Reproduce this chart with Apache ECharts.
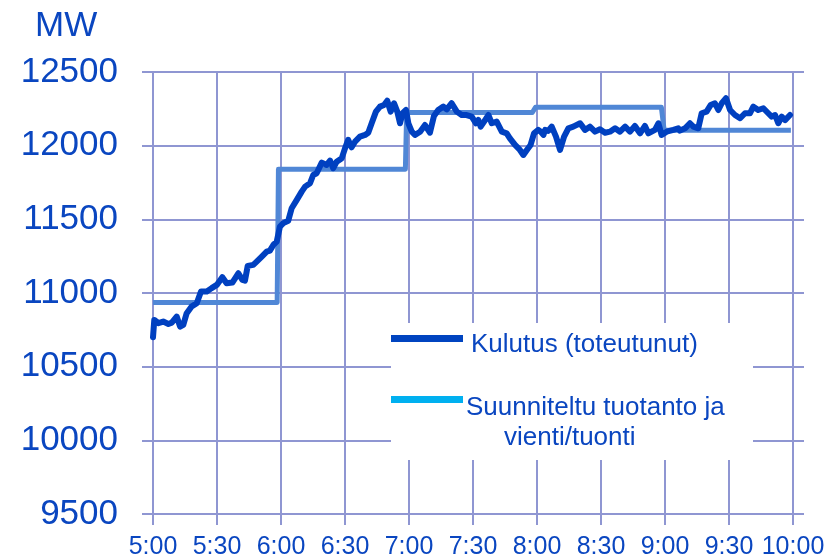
<!DOCTYPE html>
<html>
<head>
<meta charset="utf-8">
<script src="https://cdn.jsdelivr.net/npm/echarts@6/dist/echarts.min.js"></script>
<style>
html,body{margin:0;padding:0;background:#fff;}
#c{width:840px;height:557px;}
</style>
</head>
<body>
<div id="c"></div>
<script>
// Tick labels (x axis: minutes after 5:00)
var yTicks = [9500, 10000, 10500, 11000, 11500, 12000, 12500];
var xTickLabels = ['5:00','5:30','6:00','6:30','7:00','7:30','8:00','8:30','9:00','9:30','10:00'];

// Suunniteltu tuotanto ja vienti/tuonti (step), minutes after 5:00 and MW
var planMin = [0, 58.2, 58.8, 118.3, 118.9, 177.8, 179.3, 238.3, 239.6, 299];
var planMW  = [10935, 10935, 11840, 11840, 12225, 12225, 12260, 12260, 12105, 12105];

// Kulutus (toteutunut), minutes after 5:00 and MW
var useMin = [0, 0.6, 2.5, 4.8, 7.2, 8.8, 11.1, 12.7, 14.2, 15.8, 18.1, 20.5, 22.5, 25.2, 27.5, 29.9,
  32.5, 34.5, 37.2, 40.0, 41.9, 43.1, 44.4, 47.0, 48.6, 51.0, 53.3, 54.8, 56.4, 58.0, 59.5, 61.1, 63.4,
  65.0, 67.4, 69.7, 71.3, 73.6, 75.1, 76.7, 79.1, 81.4, 83.0, 84.5, 86.1, 88.5, 90.0, 91.5, 93.1, 94.7,
  97.0, 99.4, 100.9, 102.5, 104.5, 106.4, 108.3, 109.8, 111.4, 113.0, 114.5, 115.8, 117.0, 118.6, 119.7,
  121.3, 122.8, 125.2, 127.5, 129.8, 131.7, 133.7, 136.1, 137.7, 140.0, 142.4, 144.7, 147.0, 149.4,
  151.4, 152.5, 153.6, 155.2, 157.2, 158.8, 161.1, 163.5, 165.8, 167.3, 169.7, 172.0, 173.6, 175.5,
  177.0, 178.6, 180.6, 181.7, 183.0, 183.8, 185.3, 186.9, 188.9, 190.8, 192.7, 194.7, 197.0, 200.2,
  202.5, 204.8, 207.2, 209.5, 211.9, 214.2, 216.6, 218.9, 221.3, 223.6, 225.9, 228.3, 230.6, 232.2,
  235.3, 236.9, 238.4, 240.8, 243.9, 246.2, 247.0, 249.4, 251.7, 253.3, 255.6, 257.2, 259.5, 261.4,
  263.4, 265.0, 266.6, 268.6, 270.5, 272.8, 275.2, 277.5, 279.8, 281.4, 283.7, 286.1, 288.4, 290.0,
  291.6, 293.1, 294.7, 296.3, 298.6];
var useMW = [10700, 10817, 10795, 10806, 10790, 10799, 10840, 10772, 10784, 10863, 10908, 10931, 11010, 11010, 11033, 11055,
  11107, 11066, 11071, 11134, 11089, 11084, 11184, 11191, 11213, 11247, 11281, 11288, 11326, 11349, 11451, 11474, 11490,
  11575, 11632, 11688, 11722, 11745, 11801, 11813, 11885, 11869, 11898, 11847, 11891, 11915, 11982, 12039, 11989, 12027,
  12061, 12073, 12088, 12152, 12231, 12265, 12276, 12305, 12231, 12288, 12231, 12152, 12220, 12242, 12152,
  12095, 12073, 12095, 12140, 12088, 12201, 12242, 12265, 12247, 12288, 12231, 12208, 12208, 12197,
  12152, 12174, 12129, 12163, 12208, 12152, 12163, 12095, 12084, 12050, 12005, 11971, 11937, 11976,
  12005, 12084, 12107, 12095, 12073, 12107, 12100, 12129, 12061, 11971, 12061, 12118, 12129, 12152,
  12107, 12129, 12095, 12111, 12088, 12095, 12118, 12095, 12129, 12095, 12134, 12084, 12134, 12084,
  12107, 12152, 12073, 12095, 12107, 12118, 12102, 12118, 12152, 12129, 12118, 12220, 12231, 12276,
  12288, 12242, 12288, 12322, 12242, 12208, 12186, 12220, 12220, 12265, 12242, 12254, 12220, 12197,
  12208, 12152, 12197, 12174, 12208];

var legendNames = ['Kulutus (toteutunut)', 'Suunniteltu tuotanto ja', 'vienti/tuonti'];

function pairs(a, b) { return a.map(function (v, i) { return [v, b[i]]; }); }

var FONT = '"Liberation Sans", Arial, sans-serif';
var TXT = '#0a46c0';
var GRID = '#8f96d2';

var chart = echarts.init(document.getElementById('c'), null, {renderer: 'canvas'});
chart.setOption({
  animation: false,
  backgroundColor: '#ffffff',
  title: {
    text: 'MW', left: 30, top: 4,
    textStyle: {fontFamily: FONT, fontSize: 35, fontWeight: 'normal', color: TXT}
  },
  grid: {left: 153, right: 47, top: 72, bottom: 43, containLabel: false, outerBoundsMode: 'none'},
  xAxis: {
    type: 'value', min: 0, max: 300, interval: 30,
    axisLine: {show: true, lineStyle: {color: GRID, width: 2}},
    axisTick: {show: true, length: 11, lineStyle: {color: GRID, width: 2}},
    splitLine: {show: true, lineStyle: {color: GRID, width: 2}},
    axisLabel: {
      margin: 21, fontFamily: FONT, fontSize: 25, color: TXT,
      showMinLabel: true, showMaxLabel: true,
      formatter: function (v) { return xTickLabels[Math.round(v / 30)]; }
    }
  },
  yAxis: [{
    type: 'value', min: yTicks[0], max: yTicks[yTicks.length - 1], interval: 500,
    axisLine: {show: true, lineStyle: {color: GRID, width: 2}},
    axisTick: {show: true, length: 11, lineStyle: {color: GRID, width: 2}},
    splitLine: {show: true, lineStyle: {color: GRID, width: 2}},
    axisLabel: {margin: 35, fontFamily: FONT, fontSize: 35, color: TXT,
      formatter: function (v) { return String(v); }}
  }, {
    type: 'value', position: 'right', min: yTicks[0], max: yTicks[yTicks.length - 1], interval: 500,
    axisLine: {show: true, lineStyle: {color: GRID, width: 2}},
    axisTick: {show: true, length: 11, lineStyle: {color: GRID, width: 2}},
    splitLine: {show: false},
    axisLabel: {show: false}
  }],
  series: [{
    name: 'Suunniteltu tuotanto ja vienti/tuonti',
    type: 'line', showSymbol: false, symbol: 'none',
    data: pairs(planMin, planMW),
    lineStyle: {color: '#5087d6', width: 5, join: 'round'},
    z: 2
  }, {
    name: 'Kulutus (toteutunut)',
    type: 'line', showSymbol: false, symbol: 'none',
    data: pairs(useMin, useMW),
    lineStyle: {color: '#0040c0', width: 6, join: 'round', cap: 'round'},
    z: 3
  }],
  graphic: [
    {type: 'rect', shape: {x: 391, y: 323, width: 362, height: 137}, style: {fill: '#ffffff'}, z: 10},
    {type: 'rect', shape: {x: 391, y: 335, width: 72, height: 7}, style: {fill: '#0044c0'}, z: 11},
    {type: 'rect', shape: {x: 391, y: 396, width: 72, height: 7}, style: {fill: '#00b0f0'}, z: 11},
    {type: 'text', x: 471, y: 345, style: {text: legendNames[0], font: '26px ' + FONT, fill: TXT, textVerticalAlign: 'middle'}, z: 11},
    {type: 'text', x: 466, y: 408, style: {text: legendNames[1], font: '26px ' + FONT, fill: TXT, textVerticalAlign: 'middle'}, z: 11},
    {type: 'text', x: 504, y: 438, style: {text: legendNames[2], font: '26px ' + FONT, fill: TXT, textVerticalAlign: 'middle'}, z: 11}
  ]
});
</script>
</body>
</html>
